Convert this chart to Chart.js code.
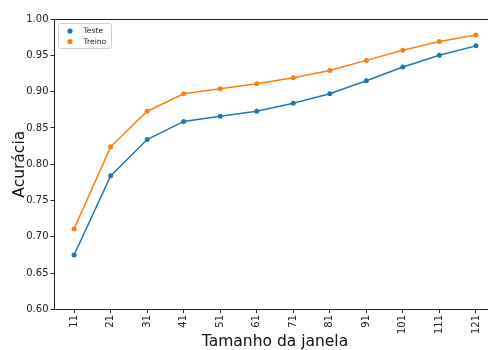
<!DOCTYPE html>
<html>
<head>
<meta charset="utf-8">
<script src="https://cdn.jsdelivr.net/npm/chart.js@4.4.0/dist/chart.umd.min.js"></script>
<style>
  html, body { margin: 0; padding: 0; background: #fff; overflow: hidden; }
  #wrap { position: absolute; left: 0; top: 0; width: 500px; height: 350px; }
</style>
</head>
<body>
<div id="wrap"><canvas id="paramChart" width="500" height="350"></canvas></div>
<script>
// window sizes (x) and accuracy per window
var windows = [11, 21, 31, 41, 51, 61, 71, 81, 91, 101, 111, 121];
var teste = [0.675, 0.784, 0.834, 0.859, 0.866, 0.873, 0.884, 0.897, 0.915, 0.934, 0.950, 0.963];
var treino = [0.711, 0.824, 0.873, 0.897, 0.904, 0.911, 0.919, 0.929, 0.943, 0.957, 0.969, 0.978];
var yTicks = [0.60, 0.65, 0.70, 0.75, 0.80, 0.85, 0.90, 0.95, 1.00];

var FONT = "'DejaVu Sans', sans-serif";

function toPoints(vals) {
  var pts = [];
  for (var i in vals) {
    pts.push({x: windows[i], y: vals[i]});
  }
  return pts;
}

// spines (left, bottom, top; right one falls off the picture) + legend box
var frameAndLegend = {
  id: 'frameAndLegend',
  afterDraw: function(chart) {
    var ctx = chart.ctx;
    var a = chart.chartArea;
    var l = Math.round(a.left) + 0.5, t = Math.round(a.top) + 0.5, b = Math.round(a.bottom) - 0.5;
    var r = Math.round(a.right);
    ctx.save();
    ctx.strokeStyle = '#222';
    ctx.lineWidth = 1;
    ctx.beginPath();
    ctx.moveTo(r, t);
    ctx.lineTo(l, t);
    ctx.lineTo(l, b);
    ctx.lineTo(r, b);
    ctx.stroke();

    var bx = a.left + 4, by = a.top + 4, bw = 53, bh = 25;
    ctx.fillStyle = 'rgba(255,255,255,0.8)';
    ctx.strokeStyle = '#d0d0d0';
    ctx.lineWidth = 1;
    ctx.beginPath();
    ctx.roundRect(bx + 0.5, by + 0.5, bw, bh, 2);
    ctx.fill();
    ctx.stroke();

    ctx.font = '7.6px ' + FONT;
    ctx.textBaseline = 'middle';
    chart.data.datasets.forEach(function(ds, i) {
      var cy = by + 8 + i * 10.6;
      ctx.fillStyle = ds.borderColor;
      ctx.beginPath();
      ctx.arc(bx + 12, cy, 2.6, 0, Math.PI * 2);
      ctx.fill();
      ctx.fillStyle = '#222';
      ctx.fillText(ds.label, bx + 25.5, cy);
    });
    ctx.restore();
  }
};

var chartdata = {
  datasets: [
    {
      label: 'Teste',
      borderColor: '#1f77b4',
      backgroundColor: '#1f77b4',
      borderWidth: 1.5,
      pointRadius: 2.5,
      pointBorderWidth: 0,
      tension: 0,
      data: toPoints(teste)
    },
    {
      label: 'Treino',
      borderColor: '#ff7f0e',
      backgroundColor: '#ff7f0e',
      borderWidth: 1.5,
      pointRadius: 2.5,
      pointBorderWidth: 0,
      tension: 0,
      data: toPoints(treino)
    }
  ]
};

var ctx = document.getElementById('paramChart');

var lineGraph = new Chart(ctx, {
  type: 'line',
  data: chartdata,
  plugins: [frameAndLegend],
  options: {
    responsive: false,
    animation: false,
    layout: { padding: { left: 0, top: 19, right: 3, bottom: 0 } },
    plugins: { legend: { display: false }, tooltip: { enabled: false } },
    scales: {
      x: {
        type: 'linear',
        min: 5.5,
        max: 126.5,
        afterBuildTicks: function(scale) {
          scale.ticks = windows.map(function(v) { return {value: v}; });
        },
        afterFit: function(scale) { scale.height = 40.5; },
        border: { display: false },
        grid: { drawOnChartArea: false, drawTicks: true, tickLength: 3.5, color: '#222' },
        ticks: {
          minRotation: 90,
          maxRotation: 90,
          padding: 2,
          color: '#222',
          font: { family: FONT, size: 10 },
          callback: function(v) { return String(v); }
        },
        title: {
          display: true,
          text: 'Tamanho da janela',
          color: '#111',
          font: { family: FONT, size: 15.5, lineHeight: 1 },
          padding: { top: 0, bottom: 0 }
        }
      },
      y: {
        min: 0.6,
        max: 1.0,
        afterBuildTicks: function(scale) {
          scale.ticks = yTicks.map(function(v) { return {value: v}; });
        },
        afterFit: function(scale) { scale.width = 54; },
        border: { display: false },
        grid: { drawOnChartArea: false, drawTicks: true, tickLength: 3.5, color: '#222' },
        ticks: {
          padding: 2,
          color: '#222',
          font: { family: FONT, size: 10 },
          callback: function(v) { return Number(v).toFixed(2); }
        },
        title: {
          display: true,
          text: 'Acurácia',
          color: '#111',
          font: { family: FONT, size: 15.5, lineHeight: 1 },
          padding: { top: 11.75, bottom: 0 }
        }
      }
    }
  }
});
</script>
</body>
</html>
